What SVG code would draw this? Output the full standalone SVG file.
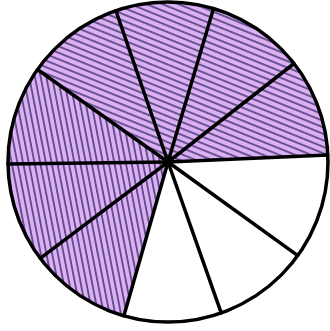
<svg xmlns="http://www.w3.org/2000/svg" width="330" height="331" viewBox="0 0 330 331">
  <defs>
    <pattern id="hatchTop" patternUnits="userSpaceOnUse" width="20" height="6" patternTransform="rotate(22)">
      <rect x="0" y="0" width="20" height="6" fill="#dcb0f3"/>
      <line x1="0" y1="3" x2="20" y2="3" stroke="#2a2360" stroke-width="1.3"/>
    </pattern>
    <pattern id="hatchLeft" patternUnits="userSpaceOnUse" width="20" height="5.6" patternTransform="rotate(79)">
      <rect x="0" y="0" width="20" height="5.6" fill="#dcb0f3"/>
      <line x1="0" y1="2.8" x2="20" y2="2.8" stroke="#2a2360" stroke-width="1.3"/>
    </pattern>
    <style>
      .spoke { stroke: #000; stroke-width: 3.5; stroke-linecap: round; }
      .rim { fill: none; stroke: #000; stroke-width: 3.5; }
    </style>
  </defs>
  <rect width="330" height="331" fill="#fff"/>
  <g id="shaded">
    <path d="M168,162 L327.8,155.1 A160,160 0 0 0 37.4,69.5 Z" fill="url(#hatchTop)"/>
    <path d="M168,162 L37.4,69.5 A160,160 0 0 0 123.9,315.8 Z" fill="url(#hatchLeft)"/>
  </g>
  <g id="spokes">
    <line class="spoke" x1="168" y1="162" x2="327.8" y2="155.1"/>
    <line class="spoke" x1="168" y1="162" x2="294.1" y2="63.5"/>
    <line class="spoke" x1="168" y1="162" x2="213.5" y2="8.6"/>
    <line class="spoke" x1="168" y1="162" x2="115.9" y2="10.7"/>
    <line class="spoke" x1="168" y1="162" x2="37.4" y2="69.5"/>
    <line class="spoke" x1="168" y1="162" x2="8" y2="164"/>
    <line class="spoke" x1="168" y1="162" x2="40.2" y2="258.3"/>
    <line class="spoke" x1="168" y1="162" x2="123.9" y2="315.8"/>
    <line class="spoke" x1="168" y1="162" x2="221.2" y2="312.9"/>
    <line class="spoke" x1="168" y1="162" x2="297.8" y2="255.6"/>
  </g>
  <g id="rim">
    <circle class="rim" cx="168" cy="162" r="160"/>
  </g>
</svg>
